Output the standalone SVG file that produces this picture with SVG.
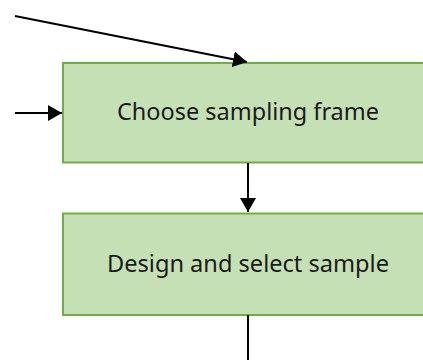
<svg xmlns="http://www.w3.org/2000/svg" width="423" height="360" viewBox="0 0 423 360">
  <style>
    .box { fill: #C5E0B4; stroke: #70AD47; stroke-width: 2; }
    .label { font-family: "Noto Sans", "Open Sans", sans-serif; font-size: 23px; fill: #1a1a1a; text-anchor: middle; }
    .edge { stroke: #000; stroke-width: 2; fill: none; }
  </style>
  <defs>
    <marker id="arrow" markerWidth="8" markerHeight="8" refX="7" refY="4" orient="auto" markerUnits="strokeWidth">
      <path d="M0,0 L7,4 L0,8 Z" fill="#000"/>
    </marker>
  </defs>
  <rect width="423" height="360" fill="#fff"/>
  <g id="choose-frame">
    <rect class="box" x="63" y="63" width="370" height="99.5"/>
    <text class="label" x="248" y="120" textLength="262" lengthAdjust="spacingAndGlyphs">Choose sampling frame</text>
  </g>
  <g id="design-sample">
    <rect class="box" x="63" y="213.5" width="370" height="101.5"/>
    <text class="label" x="248" y="272" textLength="282" lengthAdjust="spacingAndGlyphs">Design and select sample</text>
  </g>
  <g id="connectors">
    <line class="edge" x1="15" y1="16" x2="247" y2="62" marker-end="url(#arrow)"/>
    <line class="edge" x1="15" y1="113" x2="62" y2="113" marker-end="url(#arrow)"/>
    <line class="edge" x1="248" y1="163" x2="248" y2="212" marker-end="url(#arrow)"/>
    <line class="edge" x1="248" y1="315" x2="248" y2="360"/>
  </g>
</svg>
